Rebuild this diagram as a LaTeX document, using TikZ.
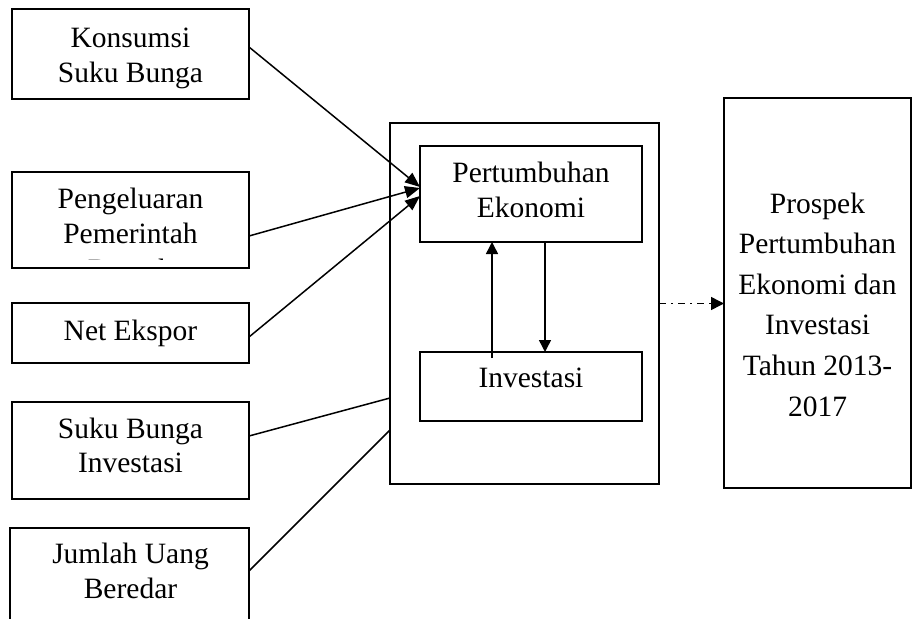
\documentclass[tikz,border=0pt]{standalone}
\usepackage{fontspec}
\setmainfont{Liberation Serif}
\usetikzlibrary{arrows.meta}
\begin{document}
\begin{tikzpicture}[x=1pt,y=-1pt,
  box/.style={draw,line width=1.7pt,rectangle,inner sep=0pt,outer sep=0pt},
  txt/.style={align=center,inner sep=0pt,anchor=base,
    font=\fontsize{29.5}{34.5}\selectfont},
  txtwide/.style={txt,font=\fontsize{29.5}{40.6}\selectfont},
  conn/.style={line width=1.5pt},
  arr/.style={conn,-{Triangle[length=15pt,width=12pt]}},
  varr/.style={conn,-{Triangle[length=12pt,width=12pt]}},
  dd/.style={conn,dash pattern=on 7pt off 5pt on 2pt off 5pt,-{Triangle[length=13pt,width=13pt]}}]
\useasboundingbox (0,0) rectangle (920,618);
\fill[white] (0,0) rectangle (920,618);
% left boxes
\node[box,minimum width=237pt,minimum height=90pt] (k1) at (130.5,54) {};
\node[box,minimum width=237pt,minimum height=96pt] (k2) at (130.5,220) {};
\node[box,minimum width=237pt,minimum height=60pt] (k3) at (130.5,333) {};
\node[box,minimum width=237pt,minimum height=97pt] (k4) at (130.5,450.5) {};
\node[box,minimum width=239pt,minimum height=96pt] (k5) at (129.5,576) {};
\node[txt] (t1) at (130.5,82) {Konsumsi\\Suku Bunga};
\node[txt] (t2) at (130.5,243) {Pengeluaran\\Pemerintah};
\begin{scope}
\clip (14,174) rectangle (247,259.5);
\node[txt] (t2b) at (130.5,279) {Daerah};
\end{scope}
\node[txt] (t3) at (130.5,340) {Net Ekspor};
\node[txt] (t4) at (130.5,472.7) {Suku Bunga\\Investasi};
\node[txt] (t5) at (130.5,598) {Jumlah Uang\\Beredar};
% middle
\node[box,minimum width=269pt,minimum height=361pt] (big) at (524.5,303.5) {};
\node[box,minimum width=222pt,minimum height=96pt] (pe) at (531,194) {};
\node[box,minimum width=222pt,minimum height=69pt] (inv) at (531,386.5) {};
\node[txt] (tpe) at (531,217) {Pertumbuhan\\Ekonomi};
\node[txt] (tinv) at (531,387) {Investasi};
% right
\node[box,minimum width=187pt,minimum height=390pt] (pr) at (817.5,293) {};
\node[txtwide] (tpr) at (817.5,416) {Prospek\\Pertumbuhan\\Ekonomi dan\\Investasi\\Tahun 2013-\\2017};
% connectors
\draw[arr] ([yshift=7pt]k1.east) -- ([yshift=7pt]pe.west);
\draw[arr] ([yshift=-16pt]k2.east) -- ([yshift=6pt]pe.west);
\draw[arr] ([yshift=-4pt]k3.east) -- ([yshift=-2pt]pe.west);
\draw[conn] ([yshift=14.5pt]k4.east) -- ([yshift=-94.5pt]big.west);
\draw[conn] ([yshift=5pt]k5.east) -- ([yshift=-126.5pt]big.west);
\draw[varr] ([xshift=-39pt,yshift=-6pt]inv.north) -- ([xshift=-39pt]pe.south);
\draw[varr] ([xshift=14pt]pe.south) -- ([xshift=14pt]inv.north);
\draw[dd] (big.east) -- (big.east -| pr.west);
\end{tikzpicture}
\end{document}
